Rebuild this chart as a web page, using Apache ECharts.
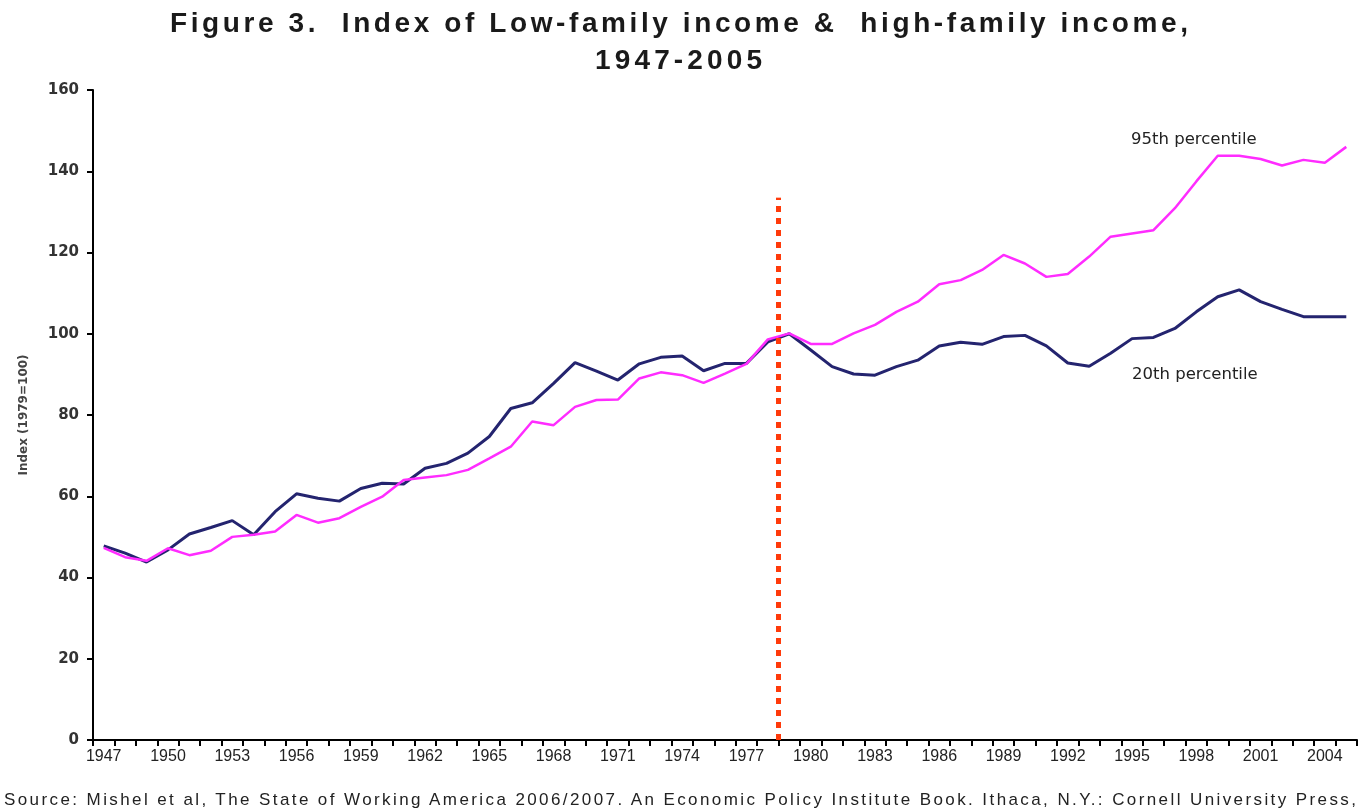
<!DOCTYPE html>
<html>
<head>
<meta charset="utf-8">
<title>Figure 3</title>
<script src="https://cdn.jsdelivr.net/npm/echarts@6/dist/echarts.min.js"></script>
<style>
  html, body { margin: 0; padding: 0; background: #fff; }
  #wrap { position: relative; width: 1360px; height: 812px; overflow: hidden; }
  #chart { position: absolute; left: 0; top: 0; width: 1360px; height: 812px; }
  .txt { position: absolute; white-space: pre; font-family: "Liberation Sans", Arial, sans-serif; color: #1a1a1a; }
  .ttl { font-size: 28px; font-weight: bold; line-height: 37px; }
  .src { font-size: 17px; line-height: 18px; color: #222; }
</style>
</head>
<body>
<div id="wrap">
  <div id="chart"></div>
  <div class="txt ttl" id="t1" data-w="1018" style="left:170px; top:4px;">Figure 3.  Index of Low-family income &amp;  high-family income,</div>
  <div class="txt ttl" id="t2" data-w="167" style="left:595px; top:41px;">1947-2005</div>
  <div class="txt src" id="src" data-w="1352" style="left:4px; top:791px;">Source: Mishel et al, The State of Working America 2006/2007. An Economic Policy Institute Book. Ithaca, N.Y.: Cornell University Press,</div>
</div>
<script>
/* Figure 3 — low vs high family income index, 1947-2005 */
var years = [];
for (var y = 1947; y <= 2005; y++) years.push(String(y));

// 20th percentile (index, 1979 = 100)
var p20 = [
  47.8, 46.0, 43.8, 46.8, 50.7, 52.3, 54.0, 50.5, 56.2, 60.6,
  59.5, 58.8, 61.9, 63.2, 63.0, 66.9, 68.1, 70.6, 74.7, 81.6,
  83.0, 87.8, 92.9, 90.8, 88.6, 92.6, 94.2, 94.5, 90.9, 92.7,
  92.7, 98.0, 100.0, 96.0, 91.9, 90.1, 89.8, 91.9, 93.5, 97.0,
  97.9, 97.4, 99.3, 99.6, 97.0, 92.8, 92.0, 95.2, 98.8, 99.1,
  101.3, 105.4, 109.1, 110.8, 107.9, 106.0, 104.2, 104.2, 104.2
];

// 95th percentile
var p95 = [
  47.3, 45.0, 44.1, 47.2, 45.5, 46.6, 50.0, 50.5, 51.3, 55.4,
  53.5, 54.6, 57.4, 59.9, 64.0, 64.6, 65.2, 66.5, 69.3, 72.2,
  78.4, 77.5, 82.0, 83.7, 83.8, 89.0, 90.5, 89.8, 87.9, 90.2,
  92.6, 98.6, 100.1, 97.5, 97.5, 100.1, 102.2, 105.4, 107.9, 112.2,
  113.2, 115.7, 119.4, 117.3, 114.0, 114.7, 119.0, 123.9, 124.7, 125.5,
  130.9, 137.5, 143.8, 143.8, 143.0, 141.4, 142.8, 142.1, 146.0
];

// dotted divider between 1978 and 1979
var dividerYear = 1978.5;
var dividerTop = 133.5;

// spread the spaced-out title / source lines to their width
['t1', 't2', 'src'].forEach(function (id) {
  var el = document.getElementById(id);
  var n = el.textContent.length;
  var w = el.getBoundingClientRect().width;
  var target = +el.getAttribute('data-w');
  el.style.letterSpacing = Math.max(0, (target - w) / (n - 1)) + 'px';
});

var chart = echarts.init(document.getElementById('chart'), null, { renderer: 'canvas' });

var labelFont = 'DejaVu Sans, sans-serif';

var option = {
  animation: false,
  grid: { left: 93, right: 3, top: 90, bottom: 72, containLabel: false },
  xAxis: [{
    type: 'category',
    data: years,
    boundaryGap: true,
    axisLine: { lineStyle: { color: '#000', width: 2 } },
    axisTick: { show: true, interval: 0, length: 6, lineStyle: { color: '#000', width: 2 } },
    axisLabel: {
      interval: 2,
      margin: 9,
      fontFamily: 'Liberation Sans, Arial, sans-serif',
      fontSize: 16,
      color: '#222'
    },
    splitLine: { show: false }
  }, {
    type: 'value',
    min: 1946.5,
    max: 2005.5,
    show: false
  }],
  yAxis: {
    type: 'value',
    min: 0,
    max: 160,
    interval: 20,
    name: 'Index (1979=100)',
    nameLocation: 'middle',
    nameRotate: 90,
    nameGap: 63,
    nameTextStyle: {
      fontFamily: labelFont,
      fontSize: 12,
      fontWeight: 'bold',
      color: '#444'
    },
    axisLine: { show: true, lineStyle: { color: '#000', width: 2 } },
    axisTick: { show: true, length: 6, lineStyle: { color: '#000', width: 2 } },
    axisLabel: {
      margin: 14,
      fontFamily: labelFont,
      fontSize: 15,
      fontWeight: 'bold',
      color: '#333'
    },
    splitLine: { show: false }
  },
  graphic: [
    {
      type: 'text', left: 1131, top: 131,
      style: { text: '95th percentile', font: '16.5px "DejaVu Sans", sans-serif', fill: '#222' }
    },
    {
      type: 'text', left: 1132, top: 366,
      style: { text: '20th percentile', font: '16.5px "DejaVu Sans", sans-serif', fill: '#222' }
    }
  ],
  series: [
    {
      name: '20th percentile',
      type: 'line',
      data: p20,
      symbol: 'none',
      lineStyle: { color: '#24246f', width: 3 },
      z: 2
    },
    {
      name: '95th percentile',
      type: 'line',
      data: p95,
      symbol: 'none',
      lineStyle: { color: '#ff2cff', width: 2.5 },
      z: 3
    },
    {
      name: 'divider',
      type: 'line',
      xAxisIndex: 1,
      data: [],
      markLine: {
        silent: true,
        symbol: ['none', 'none'],
        label: { show: false },
        lineStyle: { color: '#ff3a0a', width: 5, type: [6, 6] },
        data: [[{ coord: [dividerYear, 0] }, { coord: [dividerYear, dividerTop] }]]
      },
      z: 4
    }
  ]
};

chart.setOption(option);
window.addEventListener('resize', function () { chart.resize(); });
</script>
</body>
</html>
